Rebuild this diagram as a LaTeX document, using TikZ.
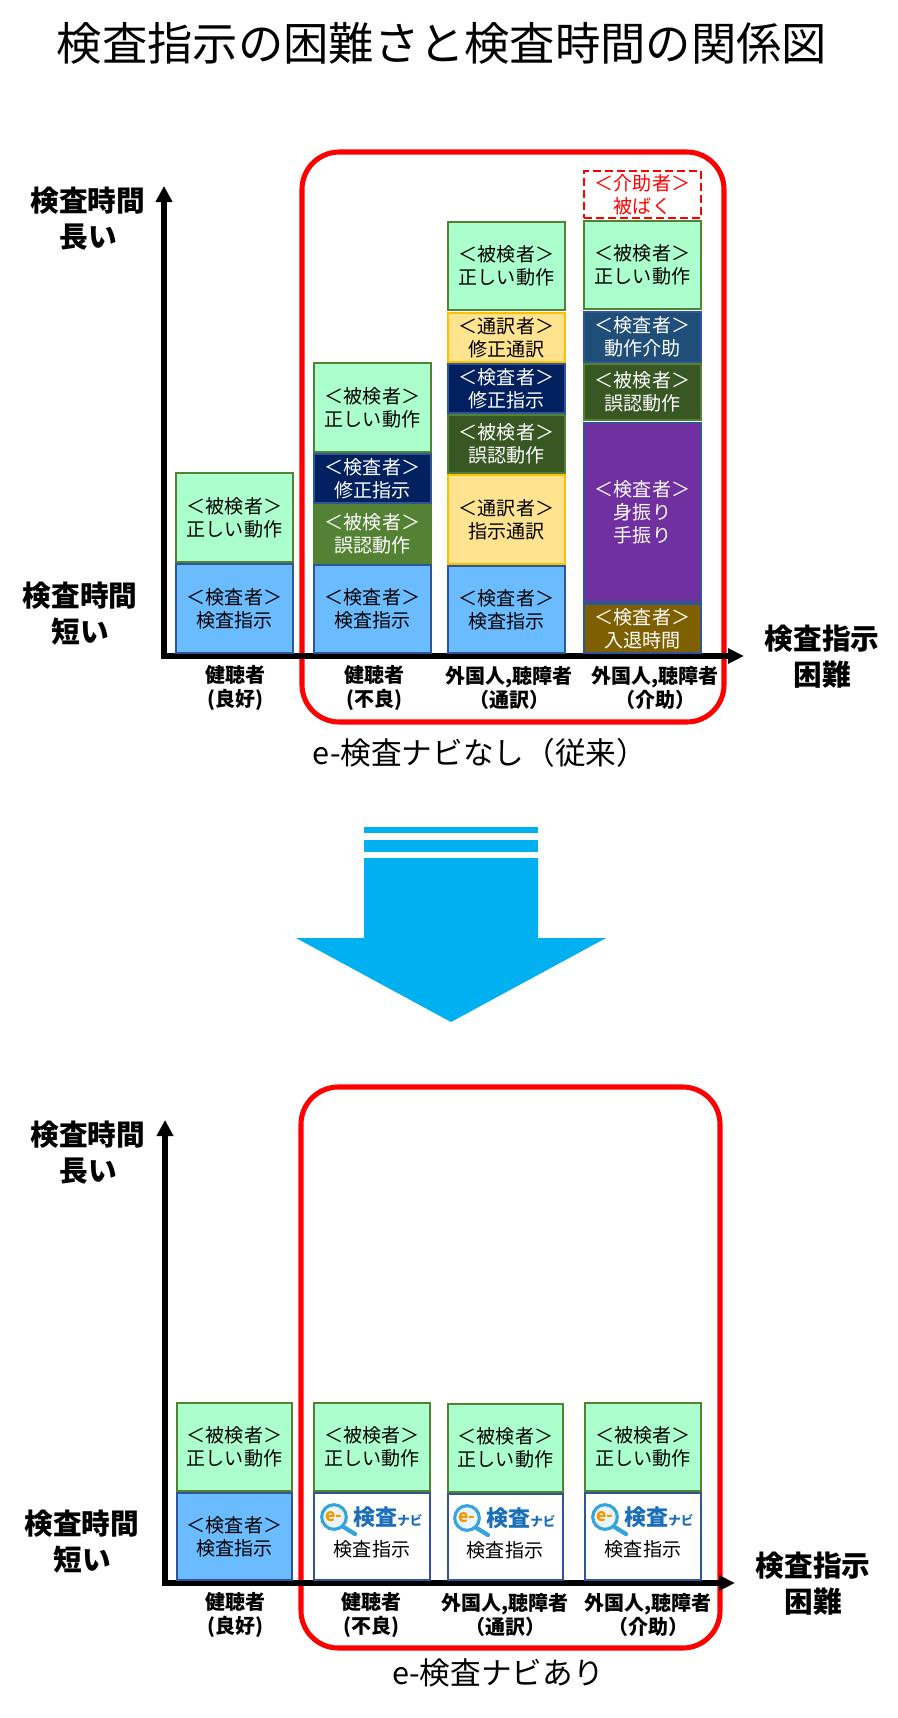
\documentclass[tikz,border=0pt]{standalone}
\usepackage{fontspec}
\setmainfont{Noto Sans CJK JP}
\usetikzlibrary{arrows.meta}
\definecolor{lgreen}{HTML}{AAFFCC}
\definecolor{gborder}{HTML}{548235}
\definecolor{lblue}{HTML}{6BBBFF}
\definecolor{bborder}{HTML}{2F5597}
\definecolor{navyc}{HTML}{002060}
\definecolor{dkgreen}{HTML}{385723}
\definecolor{mdgreen}{HTML}{548235}
\definecolor{yelc}{HTML}{FFE38F}
\definecolor{yborder}{HTML}{FFC000}
\definecolor{dkblue}{HTML}{1F4E79}
\definecolor{purp}{HTML}{7030A0}
\definecolor{brn}{HTML}{7F6000}
\definecolor{cyanarrow}{HTML}{00B0F0}
\definecolor{logoblue}{HTML}{1B6FBA}
\definecolor{logoring}{HTML}{35A4DC}
\definecolor{logofill}{HTML}{E8F5FC}
\definecolor{logoorange}{HTML}{F39800}
\definecolor{redc}{HTML}{FF0000}
\newcommand\colbox[7]{\node[#6, minimum width={(#4-#2)*0.75pt}, minimum height={(#5-#3)*0.75pt}] (#1) at ({(#2+#4)/2},{(#3+#5)/2}) {#7};}
\newcommand\navilogo[3]{%
  \draw[logoring, line width=3.2pt, line cap=round] ({#2+8},{#3+9}) -- ({#2+21},{#3+17});
  \node[circle, draw=logoring, line width=2.3pt, fill=logofill, minimum size=18.5pt, inner sep=0pt,
        font=\fontsize{13}{13}\selectfont\bfseries, text=logoorange] (#1c) at (#2,#3) {e-};
  \node[anchor=west, inner sep=0pt, text=logoblue] (#1t) at ({#2+19},{#3}) {{\fontsize{16.5}{16}\selectfont\bfseries 検査}{\fontsize{9.5}{10}\selectfont\bfseries ナビ}};
}
\tikzset{
  blk/.style={draw, line width=1.7pt, inner sep=0pt, align=center, font=\fontsize{14.3}{17.3}\selectfont},
  gbox/.style={blk, fill=lgreen, draw=gborder, text=black},
  bbox/.style={blk, fill=lblue, draw=bborder, text=black},
  wbox/.style={blk, fill=white, draw=bborder, text=black},
  nbox/.style={blk, fill=navyc, draw=bborder, text=white},
  dgbox/.style={blk, fill=dkgreen, draw=gborder, text=white},
  mgbox/.style={blk, fill=mdgreen, draw=mdgreen, text=white},
  ybox/.style={blk, fill=yelc, draw=yborder, text=black},
  dbbox/.style={blk, fill=dkblue, draw=bborder, text=white},
  pbox/.style={blk, fill=purp, draw=bborder, text=white},
  brbox/.style={blk, fill=brn, draw=bborder, text=white},
  rdbox/.style={blk, fill=white, draw=redc, dash pattern=on 6pt off 3pt, line width=1.9pt, text=redc},
  redframe/.style={draw=redc, line width=3.8pt, rounded corners=28pt, inner sep=0pt},
  axisline/.style={line width=4.5pt, {Triangle[length=12pt,width=12pt]}-{Triangle[length=12pt,width=11pt]}},
  axlab/.style={align=center, inner sep=0pt, font=\fontsize{21.5}{27}\selectfont\bfseries},
  catlab/.style={align=center, inner sep=0pt, font=\fontsize{15}{18}\selectfont\bfseries},
  caption/.style={inner sep=0pt, font=\fontsize{23}{23}\selectfont},
  navitext/.style={inner sep=0pt, font=\fontsize{14.3}{17}\selectfont},
}
\begin{document}
\begin{tikzpicture}[x=0.75pt,y=-0.75pt]
\fill[white] (0,0) rectangle (898,1718);
\useasboundingbox (0,0) rectangle (898,1718);
% title
\node[inner sep=0pt, font=\fontsize{34}{34}\selectfont] (title) at (442,43) {検査指示の困難さと検査時間の関係図};

% ===== upper chart =====
\colbox{frame1}{302}{152}{724}{722}{redframe}{}
\coordinate (o1) at (164,656);
\coordinate (yt1) at (164,186);
\coordinate (xt1) at (744,656);
\draw[axisline] (yt1) -- (o1) -- (xt1);

\colbox{Ag}{176}{473}{293}{562}{gbox}{＜被検者＞\\正しい動作}
\colbox{Ab}{176}{564}{293}{653}{bbox}{＜検査者＞\\検査指示}

\colbox{Bg}{314}{363}{431}{452}{gbox}{＜被検者＞\\正しい動作}
\colbox{Bn}{314}{454}{431}{503}{nbox}{＜検査者＞\\修正指示}
\colbox{Bm}{314}{505}{431}{563}{mgbox}{＜被検者＞\\誤認動作}
\colbox{Bb}{314}{565}{431}{653}{bbox}{＜検査者＞\\検査指示}

\colbox{Cg}{448}{222}{565}{310}{gbox}{＜被検者＞\\正しい動作}
\colbox{Cy}{448}{313}{565}{362}{ybox}{＜通訳者＞\\修正通訳}
\colbox{Cn}{448}{364}{565}{413}{nbox}{＜検査者＞\\修正指示}
\colbox{Cd}{448}{415}{565}{473}{dgbox}{＜被検者＞\\誤認動作}
\colbox{Cz}{448}{475}{565}{564}{ybox}{＜通訳者＞\\指示通訳}
\colbox{Cb}{448}{566}{565}{653}{bbox}{＜検査者＞\\検査指示}

\colbox{Dr}{584}{171}{701}{218}{rdbox}{＜介助者＞\\被ばく}
\colbox{Dg}{584}{221}{701}{309}{gbox}{＜被検者＞\\正しい動作}
\colbox{Dk}{584}{312}{701}{362}{dbbox}{＜検査者＞\\動作介助}
\colbox{Dd}{584}{364}{701}{420}{dgbox}{＜被検者＞\\誤認動作}
\colbox{Dp}{584}{423}{701}{602}{pbox}{＜検査者＞\\身振り\\手振り}
\colbox{Dw}{584}{604}{701}{653}{brbox}{＜検査者＞\\入退時間}

\node[axlab] (ylong1) at (88,219) {検査時間\\長い};
\node[axlab] (yshort1) at (80,614) {検査時間\\短い};
\node[axlab] (xlab1) at (822,657) {検査指示\\困難};
\node[catlab] (catA1) at (235,688) {健聴者\\(良好)};
\node[catlab] (catB1) at (374,688) {健聴者\\(不良)};
\node[catlab] (catC1) at (509,688) {外国人,聴障者\\（通訳）};
\node[catlab] (catD1) at (655,688) {外国人,聴障者\\（介助）};
\node[caption] (cap1) at (480,753) {e-検査ナビなし（従来）};

% ===== big arrow =====
\fill[cyanarrow] (364,827) rectangle (538,833);
\fill[cyanarrow] (364,840) rectangle (538,852);
\fill[cyanarrow] (364,858) -- (538,858) -- (538,938) -- (606,938) -- (451,1022) -- (296,938) -- (364,938) -- cycle;

% ===== lower chart =====
\colbox{frame2}{301}{1087}{720}{1648}{redframe}{}
\coordinate (o2) at (165,1583);
\coordinate (yt2) at (165,1120);
\coordinate (xt2) at (735,1583);
\draw[axisline] (yt2) -- (o2) -- (xt2);

\colbox{Ag2}{177}{1403}{292}{1491}{gbox}{＜被検者＞\\正しい動作}
\colbox{Ab2}{177}{1493}{292}{1580}{bbox}{＜検査者＞\\検査指示}
\colbox{Bg2}{314}{1403}{430}{1491}{gbox}{＜被検者＞\\正しい動作}
\colbox{Bw2}{314}{1493}{430}{1580}{wbox}{}
\colbox{Cg2}{448}{1404}{563}{1492}{gbox}{＜被検者＞\\正しい動作}
\colbox{Cw2}{448}{1494}{563}{1580}{wbox}{}
\colbox{Dg2}{585}{1403}{701}{1491}{gbox}{＜被検者＞\\正しい動作}
\colbox{Dw2}{585}{1493}{701}{1580}{wbox}{}

\navilogo{LB}{334}{1517}
\navilogo{LC}{467}{1518}
\navilogo{LD}{605}{1517}
\node[navitext] (NB) at (372,1549) {検査指示};
\node[navitext] (NC) at (505,1550) {検査指示};
\node[navitext] (ND) at (643,1549) {検査指示};

\node[axlab] (ylong2) at (88,1153) {検査時間\\長い};
\node[axlab] (yshort2) at (82,1542) {検査時間\\短い};
\node[axlab] (xlab2) at (813,1584) {検査指示\\困難};
\node[catlab] (catA2) at (235,1615) {健聴者\\(良好)};
\node[catlab] (catB2) at (371,1615) {健聴者\\(不良)};
\node[catlab] (catC2) at (505,1615) {外国人,聴障者\\（通訳）};
\node[catlab] (catD2) at (648,1615) {外国人,聴障者\\（介助）};
\node[caption] (cap2) at (498,1673) {e-検査ナビあり};
\end{tikzpicture}
\end{document}
